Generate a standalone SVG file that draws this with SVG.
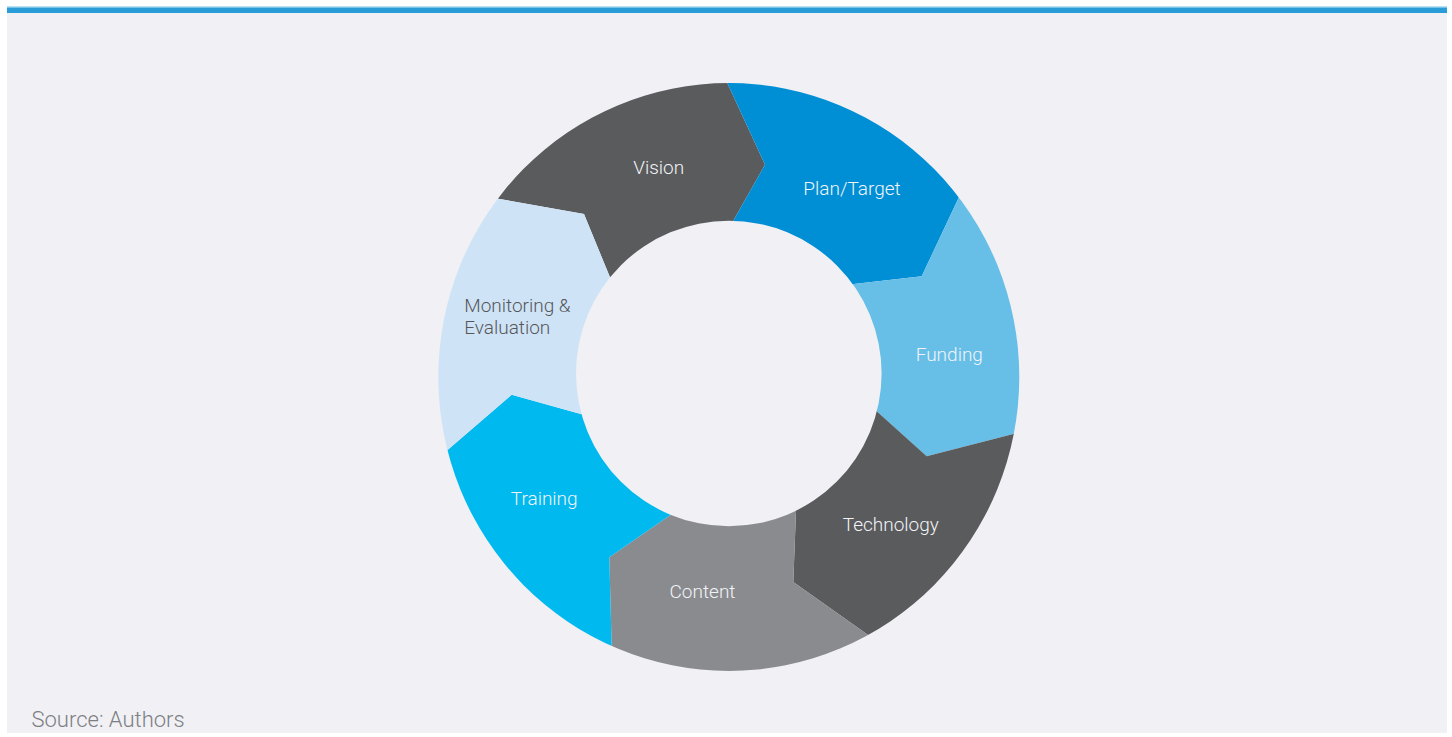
<svg xmlns="http://www.w3.org/2000/svg" width="1452" height="737" viewBox="0 0 1452 737">
<style>
.lbl{font-family:Roboto,"Open Sans","Liberation Sans",sans-serif;font-weight:300;font-size:19px;fill:#f2f3f7;text-anchor:middle}
.dark{fill:#55575a;text-anchor:start}
.src{font-family:Roboto,"Open Sans","Liberation Sans",sans-serif;font-weight:300;font-size:22px;fill:#7d7f83}
</style>
<defs>
<clipPath id="ring">
<path clip-rule="evenodd" d="M438.3,377 A290.5,294 0 1 1 1019.3,377 A290.5,294 0 1 1 438.3,377 Z M576,373.5 A152.8,152.8 0 1 0 881.6,373.5 A152.8,152.8 0 1 0 576,373.5 Z"/>
</clipPath>
</defs>
<rect x="0" y="0" width="1452" height="737" fill="#ffffff"/>
<rect x="7" y="13" width="1440" height="720" fill="#f0f0f5"/>
<rect x="7" y="6.5" width="1440" height="1.5" fill="#79c2e8"/>
<rect x="7" y="8" width="1440" height="5" fill="#2a9dd8"/>
<g clip-path="url(#ring)">
<g id="vision"><path fill="#5a5b5d" d="M728.8,375 L617.8,296.3 L610,277.3 L584,214 L498.3,198.7 L472.6,194.1 L541.7,1 L716,58.5 L727.3,83 L765,164.7 L733.3,220.7 L723.8,237.5 Z"/></g>
<g id="plan"><path fill="#008fd5" d="M728.8,375 L723.8,237.5 L733.3,220.7 L765,164.7 L727.3,83 L716,58.5 L913.8,-2 L968.5,176.7 L957.7,199.7 L921.7,276.3 L854,284 L833.7,286.3 Z"/></g>
<g id="funding"><path fill="#67bfe7" d="M728.8,375 L833.7,286.3 L854,284 L921.7,276.3 L957.7,199.7 L968.5,176.7 L1138.2,281.2 L1040.6,426.9 L1014.3,433.7 L926.7,456.3 L876.7,411.3 L861.7,397.8 Z"/></g>
<g id="technology"><path fill="#5a5b5d" d="M728.8,375 L861.7,397.8 L876.7,411.3 L926.7,456.3 L1014.3,433.7 L1040.6,426.9 L1065.1,626.6 L888.7,649.6 L866.7,634 L793.3,582 L796,511.3 L796.8,490.1 Z"/></g>
<g id="content"><path fill="#8a8b8f" d="M728.8,375 L796.8,490.1 L796,511.3 L793.3,582 L866.7,634 L888.7,649.6 L746.4,794.6 L612.4,675.2 L611.7,648 L609.3,557.3 L670,515.3 L688.2,502.7 Z"/></g>
<g id="training"><path fill="#00b9ef" d="M728.8,375 L688.2,502.7 L670,515.3 L609.3,557.3 L611.7,648 L612.4,675.2 L411.3,650 L427.2,467.5 L446.7,450.7 L511.7,394.7 L580.7,414 L601.4,419.8 Z"/></g>
<g id="monitoring"><path fill="#cfe3f6" d="M728.8,375 L601.4,419.8 L580.7,414 L511.7,394.7 L446.7,450.7 L427.2,467.5 L316.8,293.4 L472.6,194.1 L498.3,198.7 L584,214 L610,277.3 L617.8,296.3 Z"/></g>
</g>
<g id="labels">
<text class="lbl" x="658.7" y="174">Vision</text>
<text class="lbl" x="852" y="195">Plan/Target</text>
<text class="lbl" x="949.3" y="361">Funding</text>
<text class="lbl" x="890.8" y="531">Technology</text>
<text class="lbl" x="702.5" y="598">Content</text>
<text class="lbl" x="544.2" y="505">Training</text>
<text class="lbl dark" x="464.2" y="312">Monitoring &amp;</text>
<text class="lbl dark" x="464.2" y="334">Evaluation</text>
</g>
<text class="src" x="31.5" y="727">Source: Authors</text>
</svg>
